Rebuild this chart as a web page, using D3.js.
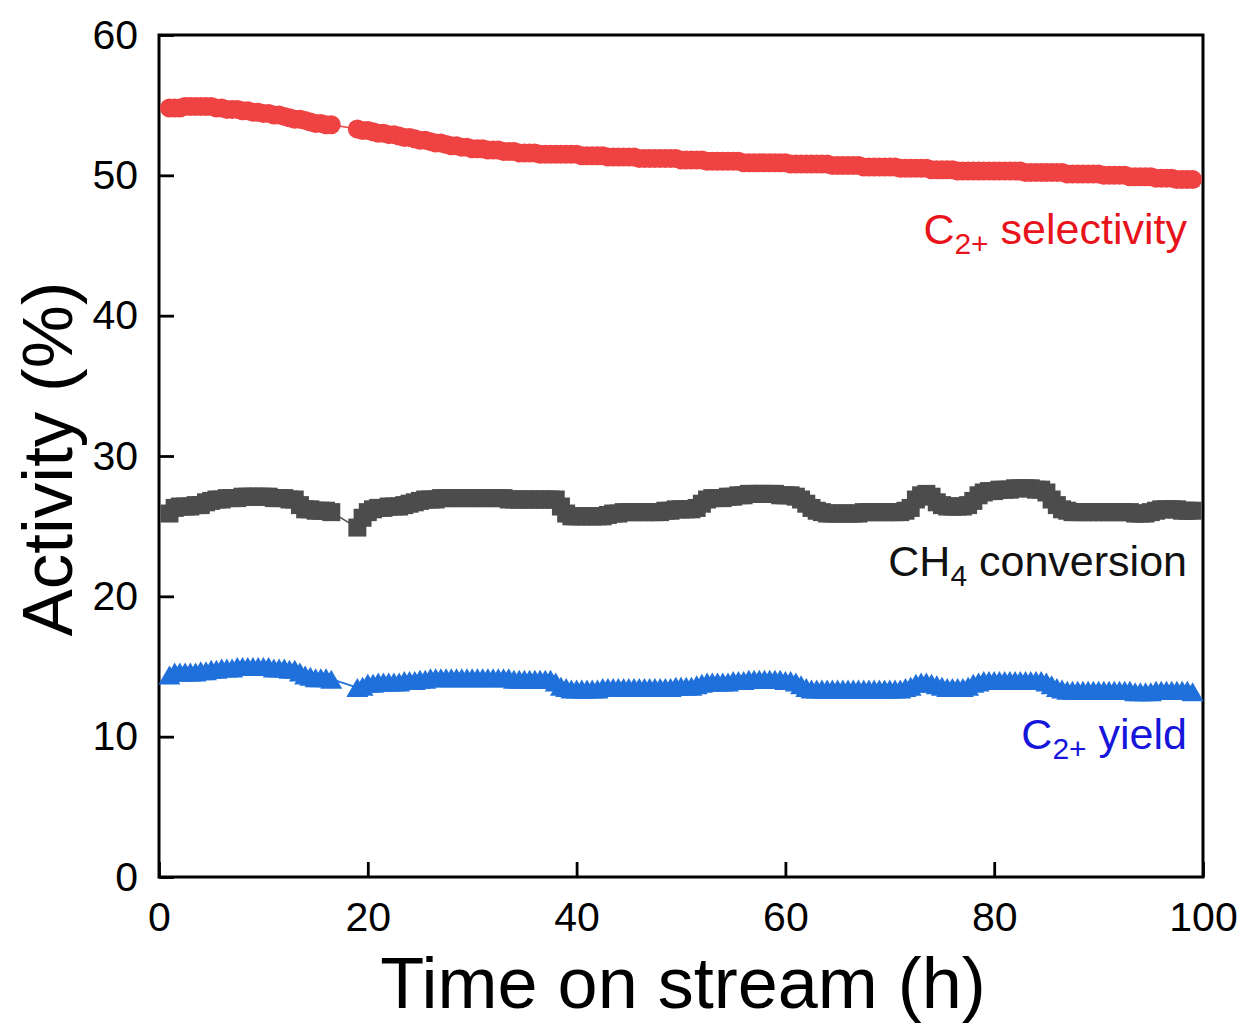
<!DOCTYPE html>
<html>
<head>
<meta charset="utf-8">
<script src="https://cdn.jsdelivr.net/npm/d3@7"></script>
<style>
  body { margin: 0; background: #fff; }
  text { font-family: "Liberation Sans", Arial, sans-serif; }
</style>
</head>
<body>
<div id="chart"></div>
<script>
// Sampling times (h) - the gap between 16.5 h and 19 h is in the original data
const hours = [
  1, 1.5, 2, 2.5, 3, 3.5, 4, 4.5, 5, 5.5, 6, 6.5, 7, 7.5, 8, 8.5, 9, 9.5, 10, 10.5,
  11, 11.5, 12, 12.5, 13, 13.5, 14, 14.5, 15, 15.5, 16, 16.5,
  19, 19.5, 20, 20.5, 21, 21.5, 22, 22.5, 23, 23.5, 24,
  24.5, 25, 25.5, 26, 26.5, 27, 27.5, 28, 28.5, 29, 29.5, 30,
  30.5, 31, 31.5, 32, 32.5, 33, 33.5, 34, 34.5, 35, 35.5, 36, 36.5, 37, 37.5, 38, 38.5, 39, 39.5, 40,
  40.5, 41, 41.5, 42, 42.5, 43, 43.5, 44, 44.5, 45, 45.5, 46, 46.5, 47, 47.5, 48, 48.5, 49, 49.5, 50,
  50.5, 51, 51.5, 52, 52.5, 53, 53.5, 54, 54.5, 55, 55.5, 56, 56.5, 57, 57.5, 58, 58.5, 59, 59.5, 60,
  60.5, 61, 61.5, 62, 62.5, 63, 63.5, 64, 64.5, 65, 65.5, 66, 66.5, 67, 67.5, 68, 68.5, 69, 69.5, 70,
  70.5, 71, 71.5, 72, 72.5, 73, 73.5, 74, 74.5, 75, 75.5, 76, 76.5, 77, 77.5, 78, 78.5, 79, 79.5, 80,
  80.5, 81, 81.5, 82, 82.5, 83, 83.5, 84, 84.5, 85, 85.5, 86, 86.5, 87, 87.5, 88, 88.5, 89, 89.5, 90,
  90.5, 91, 91.5, 92, 92.5, 93, 93.5, 94, 94.5, 95, 95.5, 96, 96.5, 97, 97.5, 98, 98.5, 99
];

// C2+ selectivity (%)
const selectivity = [
  54.8, 54.8, 54.8, 54.9, 54.9, 54.9, 54.9, 54.9, 54.9, 54.8, 54.8, 54.7, 54.7, 54.7, 54.6, 54.6, 54.5, 54.5, 54.4, 54.4,
  54.3, 54.3, 54.2, 54.1, 54.0, 54.0, 53.9, 53.8, 53.7, 53.7, 53.6, 53.6,
  53.3, 53.2, 53.2, 53.1, 53.0, 53.0, 52.9, 52.9, 52.8, 52.7, 52.7,
  52.6, 52.5, 52.5, 52.4, 52.3, 52.3, 52.2, 52.1, 52.1, 52.0, 52.0, 51.9,
  51.9, 51.9, 51.8, 51.8, 51.8, 51.7, 51.7, 51.7, 51.6, 51.6, 51.6, 51.6, 51.5, 51.5, 51.5, 51.5, 51.5, 51.5, 51.5, 51.5,
  51.4, 51.4, 51.4, 51.4, 51.4, 51.3, 51.3, 51.3, 51.3, 51.3, 51.3, 51.2, 51.2, 51.2, 51.2, 51.2, 51.2, 51.2, 51.2, 51.1,
  51.1, 51.1, 51.1, 51.1, 51.0, 51.0, 51.0, 51.0, 51.0, 51.0, 51.0, 50.9, 50.9, 50.9, 50.9, 50.9, 50.9, 50.9, 50.9, 50.9,
  50.8, 50.8, 50.8, 50.8, 50.8, 50.8, 50.8, 50.8, 50.7, 50.7, 50.7, 50.7, 50.7, 50.7, 50.6, 50.6, 50.6, 50.6, 50.6, 50.6,
  50.6, 50.5, 50.5, 50.5, 50.5, 50.5, 50.5, 50.4, 50.4, 50.4, 50.4, 50.4, 50.3, 50.3, 50.3, 50.3, 50.3, 50.3, 50.3, 50.3,
  50.3, 50.3, 50.3, 50.3, 50.3, 50.2, 50.2, 50.2, 50.2, 50.2, 50.2, 50.2, 50.2, 50.1, 50.1, 50.1, 50.1, 50.1, 50.1, 50.1,
  50.0, 50.0, 50.0, 50.0, 50.0, 49.9, 49.9, 49.9, 49.9, 49.9, 49.8, 49.8, 49.8, 49.8, 49.7, 49.7, 49.7, 49.7
];

// CH4 conversion (%)
const conversion = [
  25.9, 26.3, 26.4, 26.4, 26.4, 26.5, 26.5, 26.7, 26.8, 26.9, 26.9, 27.0, 27.0, 27.0, 27.1, 27.1, 27.1, 27.1, 27.1, 27.1,
  27.0, 27.0, 27.0, 26.9, 26.9, 26.5, 26.2, 26.2, 26.1, 26.1, 26.1, 26.0,
  24.9, 25.6, 26.0, 26.2, 26.3, 26.3, 26.4, 26.4, 26.4, 26.5, 26.6,
  26.7, 26.8, 26.9, 26.9, 26.9, 27.0, 27.0, 27.0, 27.0, 27.0, 27.0, 27.0,
  27.0, 27.0, 27.0, 27.0, 27.0, 27.0, 26.9, 26.9, 26.9, 26.9, 26.9, 26.9, 26.9, 26.9, 26.9, 26.9, 26.4, 25.9, 25.7, 25.7,
  25.7, 25.7, 25.7, 25.7, 25.7, 25.8, 25.9, 25.9, 26.0, 26.0, 26.0, 26.0, 26.0, 26.0, 26.0, 26.0, 26.1, 26.1, 26.2, 26.2,
  26.2, 26.2, 26.3, 26.6, 26.9, 27.0, 27.0, 27.0, 27.1, 27.1, 27.2, 27.2, 27.3, 27.3, 27.3, 27.3, 27.3, 27.3, 27.2, 27.2,
  27.2, 27.1, 26.9, 26.6, 26.3, 26.1, 26.0, 25.9, 25.9, 25.9, 25.9, 25.9, 25.9, 25.9, 26.0, 26.0, 26.0, 26.0, 26.0, 26.0,
  26.0, 26.0, 26.1, 26.3, 26.9, 27.2, 27.3, 27.1, 26.7, 26.5, 26.4, 26.4, 26.4, 26.4, 26.5, 26.8, 27.2, 27.4, 27.5, 27.5,
  27.6, 27.6, 27.6, 27.7, 27.7, 27.7, 27.7, 27.6, 27.6, 27.4, 26.9, 26.5, 26.2, 26.1, 26.0, 26.0, 26.0, 26.0, 26.0, 26.0,
  26.0, 26.0, 26.0, 26.0, 26.0, 26.0, 25.9, 25.9, 25.9, 26.0, 26.1, 26.2, 26.2, 26.2, 26.2, 26.1, 26.1, 26.1
];

// C2+ yield (%)
const yieldC2 = [
  14.4, 14.6, 14.6, 14.6, 14.6, 14.6, 14.7, 14.7, 14.8, 14.8, 14.9, 14.9, 14.9, 15.0, 15.0, 15.0, 15.0, 15.0, 15.0, 15.0,
  14.9, 14.9, 14.9, 14.8, 14.8, 14.6, 14.4, 14.3, 14.2, 14.2, 14.2, 14.1,
  13.5, 13.6, 13.8, 13.8, 13.9, 13.9, 13.9, 13.9, 13.9, 14.0, 14.0,
  14.0, 14.1, 14.1, 14.2, 14.2, 14.2, 14.2, 14.2, 14.2, 14.2, 14.2, 14.2,
  14.2, 14.2, 14.2, 14.2, 14.2, 14.2, 14.2, 14.1, 14.1, 14.1, 14.1, 14.1, 14.1, 14.1, 14.1, 13.9, 13.6, 13.5, 13.4, 13.4,
  13.4, 13.4, 13.4, 13.4, 13.5, 13.5, 13.5, 13.5, 13.5, 13.5, 13.5, 13.5, 13.5, 13.5, 13.5, 13.5, 13.5, 13.5, 13.6, 13.6,
  13.6, 13.6, 13.7, 13.8, 13.9, 13.9, 13.9, 13.9, 13.9, 14.0, 14.0, 14.0, 14.1, 14.1, 14.1, 14.1, 14.1, 14.1, 14.1, 14.0,
  14.0, 13.9, 13.7, 13.5, 13.4, 13.4, 13.4, 13.4, 13.4, 13.4, 13.4, 13.4, 13.4, 13.4, 13.4, 13.4, 13.4, 13.4, 13.4, 13.4,
  13.4, 13.4, 13.5, 13.6, 13.8, 13.9, 13.9, 13.8, 13.7, 13.6, 13.5, 13.5, 13.5, 13.5, 13.6, 13.8, 13.9, 14.0, 14.0, 14.0,
  14.0, 14.0, 14.0, 14.0, 14.0, 14.0, 14.0, 14.0, 14.0, 13.9, 13.7, 13.5, 13.4, 13.3, 13.3, 13.3, 13.3, 13.3, 13.3, 13.3,
  13.3, 13.3, 13.3, 13.3, 13.3, 13.3, 13.2, 13.2, 13.2, 13.2, 13.3, 13.3, 13.3, 13.3, 13.3, 13.3, 13.3, 13.2
];

const xTicks = [0, 20, 40, 60, 80, 100];
const yTicks = [0, 10, 20, 30, 40, 50, 60];

const W = 1243, H = 1025;
const plot = { left: 159, right: 1203, top: 35, bottom: 877 };

const svg = d3.select("#chart").append("svg")
  .attr("width", W)
  .attr("height", H);

const x = d3.scaleLinear().domain([0, 100]).range([plot.left, plot.right]);
const y = d3.scaleLinear().domain([0, 60]).range([plot.bottom, plot.top]);

// axes with inward ticks
const xAxis = svg.append("g")
  .attr("transform", `translate(0,${plot.bottom})`)
  .call(d3.axisBottom(x).tickValues(xTicks).tickSizeInner(-15).tickSizeOuter(0).tickPadding(25));
const yAxis = svg.append("g")
  .attr("transform", `translate(${plot.left},0)`)
  .call(d3.axisLeft(y).tickValues(yTicks).tickSizeInner(-15).tickSizeOuter(0).tickPadding(21));

[xAxis, yAxis].forEach(g => {
  g.select(".domain").remove();
  g.selectAll(".tick line").attr("stroke", "#000").attr("stroke-width", 2.8);
  g.selectAll(".tick text").attr("fill", "#000").style("font-size", "41px")
    .style("font-family", '"Liberation Sans", Arial, sans-serif');
});

// frame
svg.append("rect")
  .attr("x", plot.left).attr("y", plot.top)
  .attr("width", plot.right - plot.left).attr("height", plot.bottom - plot.top)
  .attr("fill", "none").attr("stroke", "#000").attr("stroke-width", 3);

const series = [
  { values: selectivity, color: "#EF4242", shape: "circle" },
  { values: conversion, color: "#4C4C4C", shape: "square" },
  { values: yieldC2, color: "#1F70DA", shape: "triangle" }
];

const line = d3.line().x(d => x(d[0])).y(d => y(d[1]));

series.forEach(s => {
  const pts = hours.map((t, i) => [t, s.values[i]]);
  svg.append("path")
    .datum(pts)
    .attr("d", line)
    .attr("fill", "none")
    .attr("stroke", s.color)
    .attr("stroke-width", 1.6);

  const g = svg.append("g").attr("fill", s.color);
  if (s.shape === "circle") {
    g.selectAll("circle").data(pts).enter().append("circle")
      .attr("cx", d => x(d[0])).attr("cy", d => y(d[1])).attr("r", 9.5);
  } else if (s.shape === "square") {
    g.selectAll("rect").data(pts).enter().append("rect")
      .attr("x", d => x(d[0]) - 9).attr("y", d => y(d[1]) - 9)
      .attr("width", 18).attr("height", 18);
  } else {
    const hw = 11, hh = 9.5;
    g.selectAll("path").data(pts).enter().append("path")
      .attr("d", d => {
        const cx = x(d[0]), cy = y(d[1]);
        return `M${cx},${cy - hh}L${cx + hw},${cy + hh}L${cx - hw},${cy + hh}Z`;
      });
  }
});

// axis titles
svg.append("text")
  .attr("x", (plot.left + plot.right) / 2 + 2)
  .attr("y", 1008)
  .attr("text-anchor", "middle")
  .style("font-size", "72px")
  .text("Time on stream (h)");

svg.append("text")
  .attr("transform", `translate(72,${(plot.top + plot.bottom) / 2 + 3}) rotate(-90)`)
  .attr("text-anchor", "middle")
  .style("font-size", "71px")
  .text("Activity (%)");

// series labels with subscripts
function label(yBase, color, parts) {
  const t = svg.append("text")
    .attr("x", 1187)
    .attr("y", yBase)
    .attr("text-anchor", "end")
    .attr("fill", color)
    .style("font-size", "43px");
  parts.forEach(p => {
    if (p.sub) {
      t.append("tspan").attr("dy", 10).style("font-size", "30px").text(p.sub);
    } else {
      t.append("tspan").attr("dy", p.after ? -10 : 0).text(p.text);
    }
  });
}

label(244, "#E8141C", [{ text: "C" }, { sub: "2+" }, { text: " selectivity", after: true }]);
label(576, "#111", [{ text: "CH" }, { sub: "4" }, { text: " conversion", after: true }]);
label(749, "#1515DC", [{ text: "C" }, { sub: "2+" }, { text: " yield", after: true }]);
</script>
</body>
</html>
